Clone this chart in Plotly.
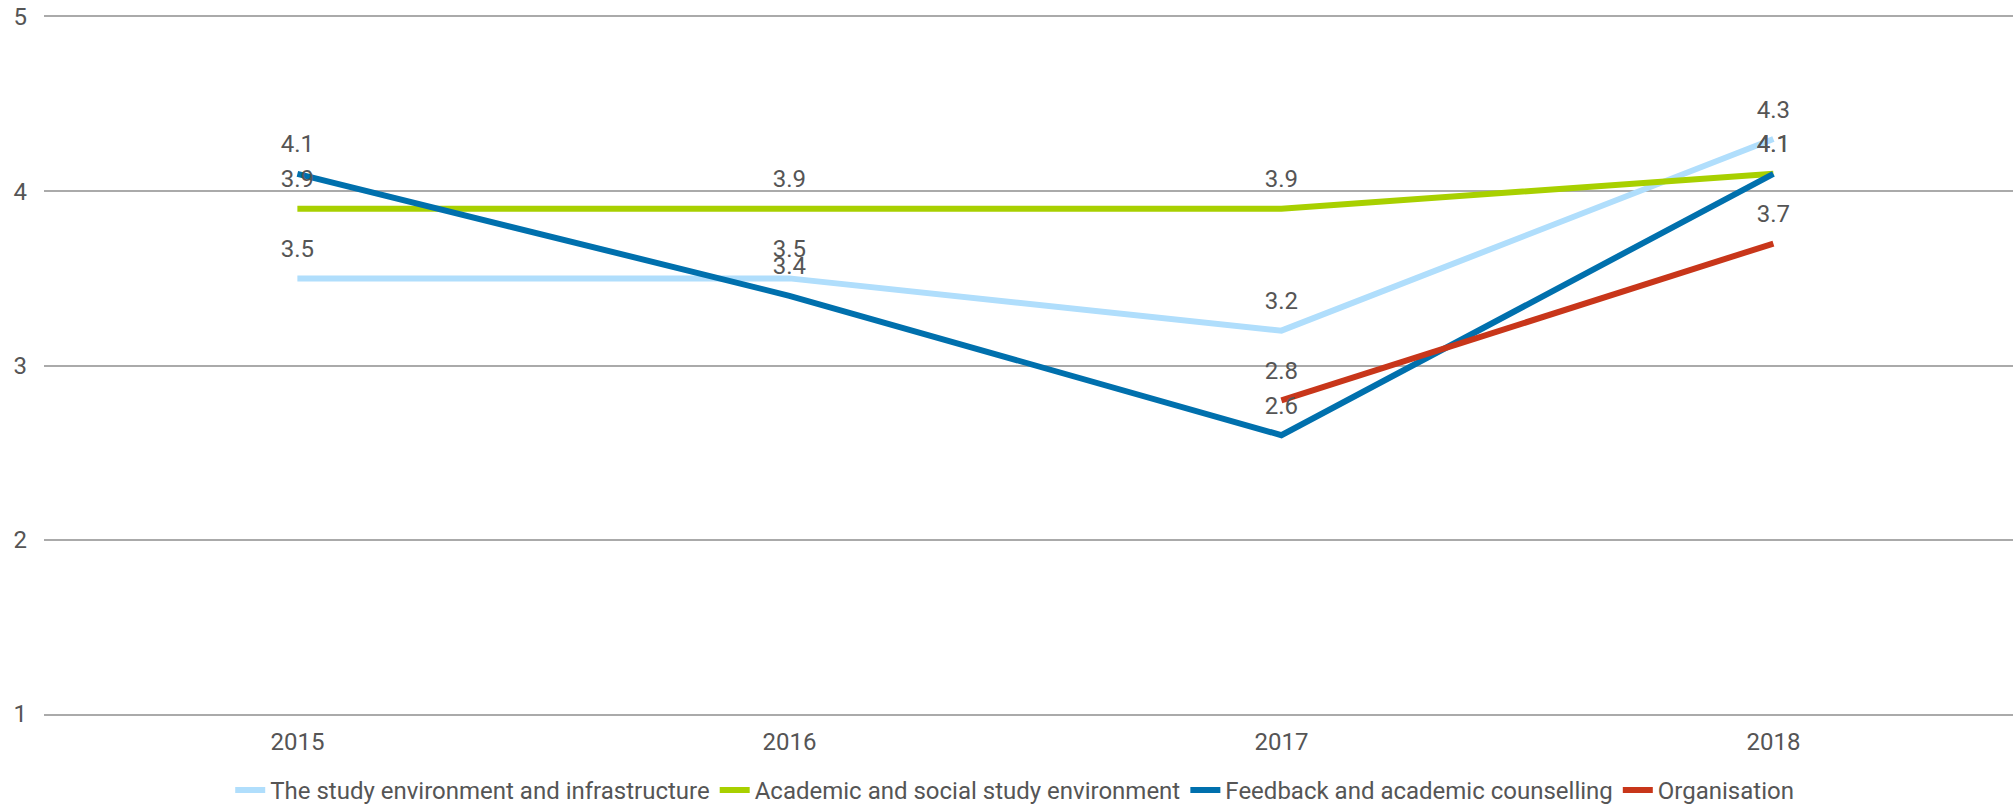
import plotly.graph_objects as go

years = ["2015", "2016", "2017", "2018"]
series_names = [
    "The study environment and infrastructure",
    "Academic and social study environment",
    "Feedback and academic counselling",
    "Organisation",
]
study_env = [3.5, 3.5, 3.2, 4.3]
academic_social = [3.9, 3.9, 3.9, 4.1]
feedback = [4.1, 3.4, 2.6, 4.1]
organisation = [None, None, 2.8, 3.7]
y_ticks = [1, 2, 3, 4, 5]

colors = ["#b0defc", "#a8d000", "#0070ad", "#c8361a"]
values = [study_env, academic_social, feedback, organisation]

text_color = "#555555"
font_family = "Roboto, Arial, sans-serif"
FS = 24

fig = go.Figure()
for name, vals, col in zip(series_names, values, colors):
    fig.add_trace(go.Scatter(
        x=years, y=vals, name=name, mode="lines",
        line=dict(color=col, width=6),
        connectgaps=False, hoverinfo="skip",
    ))

# value labels above each point (invisible markers set the offset)
for vals in values:
    xs = [x for x, v in zip(years, vals) if v is not None]
    ys = [v for v in vals if v is not None]
    fig.add_trace(go.Scatter(
        x=xs, y=ys, mode="markers+text", showlegend=False, hoverinfo="skip",
        marker=dict(size=23, opacity=0),
        text=[f"{v:.1f}" for v in ys], textposition="top center",
        textfont=dict(size=FS, color=text_color, family=font_family),
        cliponaxis=False,
    ))

fig.update_layout(
    width=2013, height=807,
    margin=dict(l=44, r=0, t=17, b=93, autoexpand=False),
    paper_bgcolor="white", plot_bgcolor="white",
    font=dict(family=font_family, size=FS, color=text_color),
    showlegend=True,
    legend=dict(
        orientation="h", x=0.493, xanchor="center",
        yref="paper", y=-0.0775, yanchor="top",
        font=dict(size=FS, color=text_color, family=font_family),
        itemwidth=30, tracegroupgap=0, borderwidth=0,
    ),
)
fig.update_xaxes(
    type="category", range=[-0.515, 3.487], showgrid=False, automargin=False,
    showline=True, mirror=True, linecolor="#aaaaaa", linewidth=1.5,
    zeroline=False, ticks="", tickfont=dict(size=FS, color=text_color),
    ticklabelstandoff=5,
)
fig.update_yaxes(
    range=[1, 5], tickvals=y_ticks, showgrid=True, gridcolor="#aaaaaa",
    gridwidth=1.5, zeroline=False, showline=False, ticks="", automargin=False,
    tickfont=dict(size=FS, color=text_color), ticklabelstandoff=16,
)

fig.write_html("out.html")
